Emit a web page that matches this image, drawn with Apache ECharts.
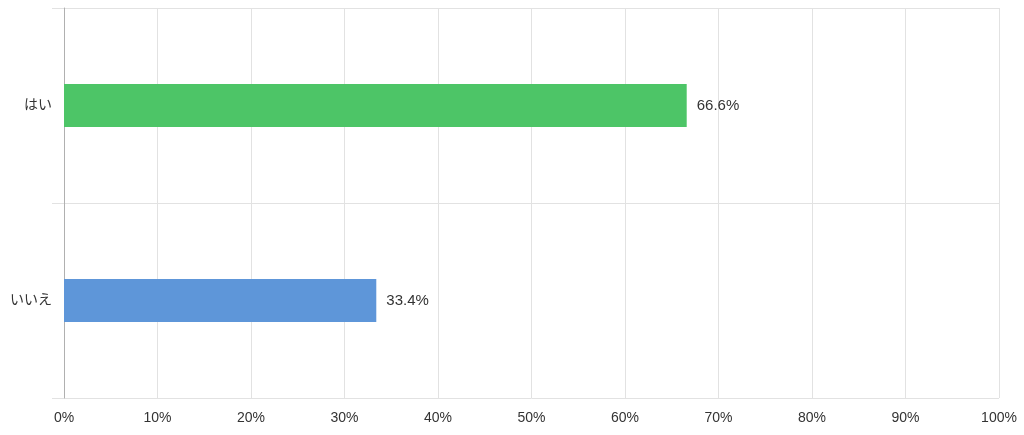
<!DOCTYPE html>
<html><head><meta charset="utf-8">
<script src="https://cdn.jsdelivr.net/npm/echarts@6/dist/echarts.min.js"></script>
<style>html,body{margin:0;padding:0;background:#fff}#c{width:1024px;height:435px}</style>
</head><body><div id="c"></div>
<script>
const categories = ['はい', 'いいえ'];
const values = [66.6, 33.4];
const barColors = ['#4dc567', '#5e96d9'];
const xTicks = [0, 10, 20, 30, 40, 50, 60, 70, 80, 90, 100];

const chart = echarts.init(document.getElementById('c'), null, {renderer: 'canvas'});
const font = '"Liberation Sans", "Noto Sans CJK JP", sans-serif';
chart.setOption({
  animation: false,
  grid: {left: 64, right: 25, top: 8, bottom: 37, containLabel: false},
  xAxis: {
    type: 'value', min: xTicks[0], max: xTicks[xTicks.length - 1], interval: 10,
    axisLine: {show: false}, axisTick: {show: false},
    axisLabel: {formatter: '{value}%', color: '#333', fontSize: 14, margin: 13, fontFamily: font},
    splitLine: {lineStyle: {color: '#e2e2e2', width: 1}}
  },
  yAxis: {
    type: 'category', data: categories, inverse: true,
    axisLine: {lineStyle: {color: '#b0b0b0', width: 1}},
    axisTick: {show: true, length: 12, lineStyle: {color: '#e2e2e2'}},
    axisLabel: {color: '#333', fontSize: 14, margin: 12, fontFamily: font},
    splitLine: {show: true, lineStyle: {color: '#e2e2e2', width: 1}}
  },
  series: [{
    type: 'bar',
    data: values.map((v, i) => ({value: v, itemStyle: {color: barColors[i]}})),
    barWidth: 43,
    label: {show: true, position: 'right', distance: 10, formatter: p => p.value.toFixed(1) + '%', color: '#333', fontSize: 15, fontFamily: font}
  }]
});
</script></body></html>
